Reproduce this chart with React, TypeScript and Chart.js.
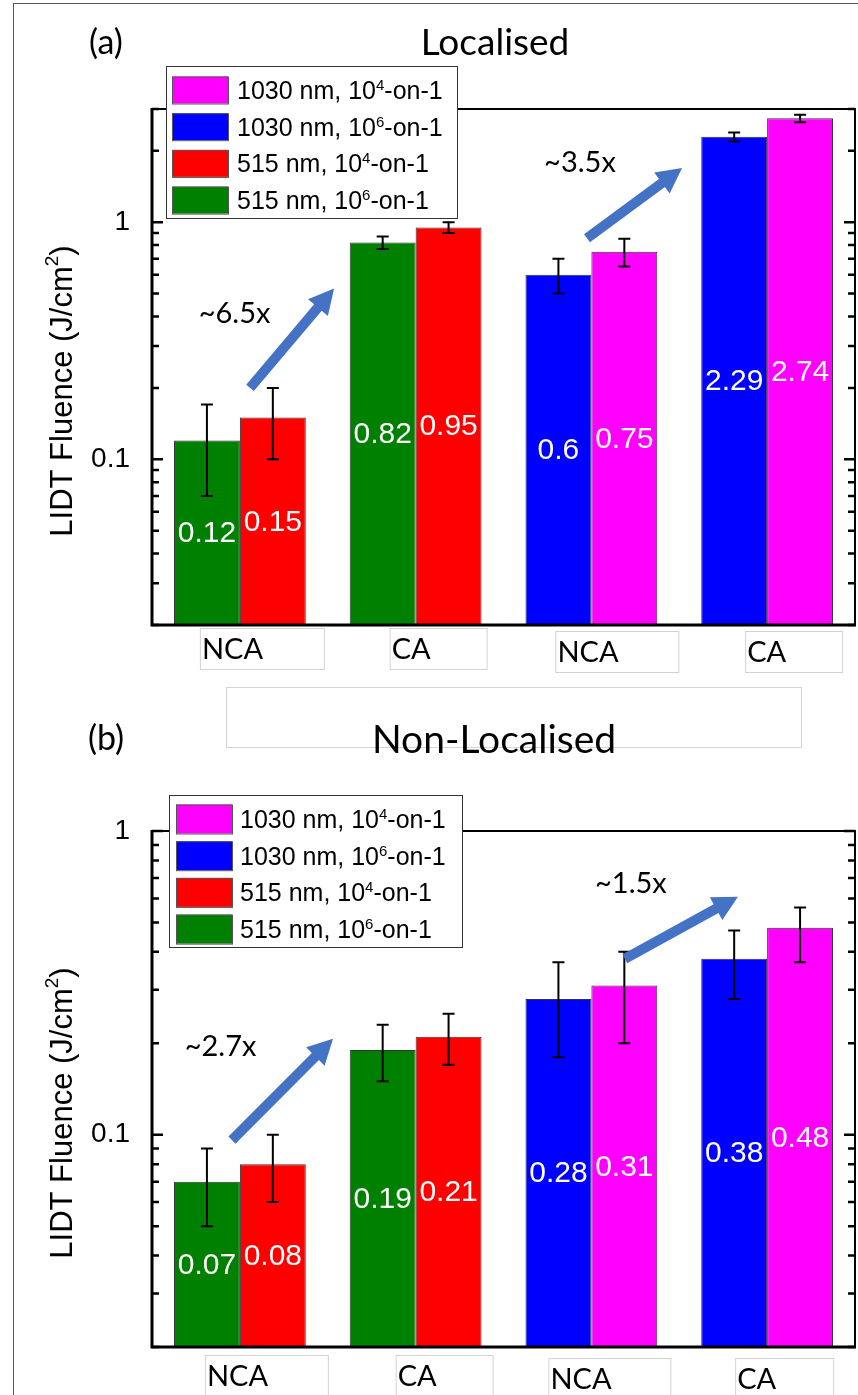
import React, { useEffect, useRef } from "react";
import { Chart, registerables } from "chart.js";

Chart.register(...registerables);

// ---------- data ----------
const CATEGORIES = ["NCA", "CA", "NCA", "CA"];
const SERIES_LABELS = ["515 nm, 10⁶-on-1", "515 nm, 10⁴-on-1", "1030 nm, 10⁶-on-1", "1030 nm, 10⁴-on-1"];
const SERIES_COLORS = ["#008000", "#FF0000", "#0000FF", "#FF00FF"];

// (a) Localised
const LOC_515_1E6 = [0.12, 0.82, null, null];
const LOC_515_1E4 = [0.15, 0.95, null, null];
const LOC_1030_1E6 = [null, null, 0.6, 2.29];
const LOC_1030_1E4 = [null, null, 0.75, 2.74];
const LOC_515_1E6_LO = [0.07, 0.77, null, null];
const LOC_515_1E6_HI = [0.17, 0.87, null, null];
const LOC_515_1E4_LO = [0.1, 0.9, null, null];
const LOC_515_1E4_HI = [0.2, 1.0, null, null];
const LOC_1030_1E6_LO = [null, null, 0.5, 2.19];
const LOC_1030_1E6_HI = [null, null, 0.7, 2.39];
const LOC_1030_1E4_LO = [null, null, 0.65, 2.64];
const LOC_1030_1E4_HI = [null, null, 0.85, 2.84];

// (b) Non-Localised
const NL_515_1E6 = [0.07, 0.19, null, null];
const NL_515_1E4 = [0.08, 0.21, null, null];
const NL_1030_1E6 = [null, null, 0.28, 0.38];
const NL_1030_1E4 = [null, null, 0.31, 0.48];
const NL_515_1E6_LO = [0.05, 0.15, null, null];
const NL_515_1E6_HI = [0.09, 0.23, null, null];
const NL_515_1E4_LO = [0.06, 0.17, null, null];
const NL_515_1E4_HI = [0.1, 0.25, null, null];
const NL_1030_1E6_LO = [null, null, 0.18, 0.28];
const NL_1030_1E6_HI = [null, null, 0.37, 0.47];
const NL_1030_1E4_LO = [null, null, 0.2, 0.37];
const NL_1030_1E4_HI = [null, null, 0.4, 0.56];

// y ticks
const Y_TICKS_LOC = [0.02, 0.03, 0.04, 0.05, 0.06, 0.07, 0.08, 0.09, 0.1, 0.2, 0.3, 0.4, 0.5, 0.6, 0.7, 0.8, 0.9, 1, 2, 3];
const Y_TICKS_NL = [0.02, 0.03, 0.04, 0.05, 0.06, 0.07, 0.08, 0.09, 0.1, 0.2, 0.3, 0.4, 0.5, 0.6, 0.7, 0.8, 0.9, 1];
const LABELED_TICKS = [0.1, 1];

// annotations (data coordinates: category index, value)
const LOC_ARROWS = [
  { from: [0.058, 0.2], to: [0.536, 0.525] },
  { from: [1.975, 0.855], to: [2.516, 1.69] },
];
const LOC_NOTES = [
  { text: "~6.5x", at: [-0.03, 0.41] },
  { text: "~3.5x", at: [1.935, 1.78] },
];
const NL_ARROWS = [
  { from: [-0.045, 0.096], to: [0.53, 0.207] },
  { from: [2.19, 0.379], to: [2.834, 0.608] },
];
const NL_NOTES = [
  { text: "~2.7x", at: [-0.11, 0.195] },
  { text: "~1.5x", at: [2.225, 0.671] },
];

const ARIAL = "'Liberation Sans', Arial, sans-serif";
const LATO = "Lato, 'Open Sans', sans-serif";
const W = 858;
const H = 1395;

const PANEL_A = {
  id: "a",
  series: [LOC_515_1E6, LOC_515_1E4, LOC_1030_1E6, LOC_1030_1E4],
  lo: [LOC_515_1E6_LO, LOC_515_1E4_LO, LOC_1030_1E6_LO, LOC_1030_1E4_LO],
  hi: [LOC_515_1E6_HI, LOC_515_1E4_HI, LOC_1030_1E6_HI, LOC_1030_1E4_HI],
  yMin: 0.02,
  yMax: 3,
  yTicks: Y_TICKS_LOC,
  top: 109,
  bottom: 625,
  title: "Localised",
  titleX: 495,
  titleBase: 55,
  titleSize: 37,
  tag: "(a)",
  tagX: 106,
  tagBase: 54,
  yTitleX: 72,
  yTitleY: 391,
  legend: { x: 166, y: 66, w: 291, h: 152, row0: 90, step: 36.7, sx: 172, sw: 56, sh: 27, tx: 237 },
  xl: { dx: [-40, -26, -36, -22], top: [628, 628, 631, 631], w: [124, 97, 123, 97], h: 41 },
  arrows: LOC_ARROWS,
  notes: LOC_NOTES,
};

const PANEL_B = {
  id: "b",
  series: [NL_515_1E6, NL_515_1E4, NL_1030_1E6, NL_1030_1E4],
  lo: [NL_515_1E6_LO, NL_515_1E4_LO, NL_1030_1E6_LO, NL_1030_1E4_LO],
  hi: [NL_515_1E6_HI, NL_515_1E4_HI, NL_1030_1E6_HI, NL_1030_1E4_HI],
  yMin: 0.02,
  yMax: 1,
  yTicks: Y_TICKS_NL,
  top: 831,
  bottom: 1347,
  title: "Non-Localised",
  titleX: 494,
  titleBase: 753,
  titleSize: 39,
  tag: "(b)",
  tagX: 106,
  tagBase: 750,
  yTitleX: 72,
  yTitleY: 1113,
  legend: { x: 169, y: 795, w: 293, h: 152, row0: 819, step: 36.7, sx: 176, sw: 56, sh: 29, tx: 240 },
  xl: { dx: [-35, -20, -43, -32], top: [1355, 1355, 1358, 1358], w: [123, 97, 122, 98], h: 50 },
  arrows: NL_ARROWS,
  notes: NL_NOTES,
};

// ---------- helpers ----------
const SUP_MAP: Record<string, string> = { "⁰": "0", "¹": "1", "²": "2", "³": "3", "⁴": "4", "⁵": "5", "⁶": "6", "⁷": "7", "⁸": "8", "⁹": "9" };

function splitSup(label: string) {
  const parts: { text: string; sup: boolean }[] = [];
  for (const ch of label) {
    const sup = ch in SUP_MAP;
    const c = sup ? SUP_MAP[ch] : ch;
    const last = parts[parts.length - 1];
    if (last && last.sup === sup) last.text += c;
    else parts.push({ text: c, sup });
  }
  return parts;
}

function drawRich(ctx: CanvasRenderingContext2D, parts: { text: string; sup: boolean }[], x: number, y: number, size: number, supSize: number, raise: number, center: boolean) {
  const widths = parts.map((p) => {
    ctx.font = `${p.sup ? supSize : size}px ${ARIAL}`;
    return ctx.measureText(p.text).width;
  });
  const total = widths.reduce((a, b) => a + b, 0);
  let cx = center ? x - total / 2 : x;
  ctx.textAlign = "left";
  ctx.textBaseline = "alphabetic";
  parts.forEach((p, i) => {
    ctx.font = `${p.sup ? supSize : size}px ${ARIAL}`;
    ctx.fillText(p.text, cx, p.sup ? y - raise : y);
    cx += widths[i];
  });
}

function drawArrow(ctx: CanvasRenderingContext2D, x1: number, y1: number, x2: number, y2: number) {
  const ang = Math.atan2(y2 - y1, x2 - x1);
  const len = Math.hypot(x2 - x1, y2 - y1);
  const sw = 5;
  const hw = 13;
  const hl = 25;
  ctx.save();
  ctx.translate(x1, y1);
  ctx.rotate(ang);
  ctx.beginPath();
  ctx.moveTo(0, -sw);
  ctx.lineTo(len - hl, -sw);
  ctx.lineTo(len - hl, -hw);
  ctx.lineTo(len, 0);
  ctx.lineTo(len - hl, hw);
  ctx.lineTo(len - hl, sw);
  ctx.lineTo(0, sw);
  ctx.closePath();
  ctx.fillStyle = "#4472C4";
  ctx.fill();
  ctx.restore();
}

function decorPlugin(panel: any) {
  return {
    id: "decor" + panel.id,
    afterDatasetsDraw(chart: any) {
      const ctx: CanvasRenderingContext2D = chart.ctx;
      const yS = chart.scales.y;
      ctx.save();
      chart.data.datasets.forEach((ds: any, di: number) => {
        const meta = chart.getDatasetMeta(di);
        ds.data.forEach((v: number | null, i: number) => {
          if (v == null) return;
          const bar = meta.data[i];
          if (!bar || !isFinite(bar.x)) return;
          // value label
          ctx.fillStyle = "#FFFFFF";
          ctx.font = `30px ${ARIAL}`;
          ctx.textAlign = "center";
          ctx.textBaseline = "middle";
          ctx.fillText(String(v), bar.x, (bar.y + bar.base) / 2 + 1);
          // error bar
          const lo = panel.lo[di][i];
          const hi = panel.hi[di][i];
          if (lo == null || hi == null) return;
          const yl = yS.getPixelForValue(lo);
          const yh = yS.getPixelForValue(hi);
          ctx.strokeStyle = "#000";
          ctx.lineWidth = 2;
          ctx.beginPath();
          ctx.moveTo(bar.x, yl);
          ctx.lineTo(bar.x, yh);
          ctx.moveTo(bar.x - 6, yl);
          ctx.lineTo(bar.x + 6, yl);
          ctx.moveTo(bar.x - 6, yh);
          ctx.lineTo(bar.x + 6, yh);
          ctx.stroke();
        });
      });
      ctx.restore();
    },
    afterDraw(chart: any) {
      const ctx: CanvasRenderingContext2D = chart.ctx;
      const { left, right, top, bottom } = chart.chartArea;
      const xS = chart.scales.x;
      const yS = chart.scales.y;
      ctx.save();

      // frame
      ctx.strokeStyle = "#000";
      ctx.lineWidth = 2;
      ctx.beginPath();
      ctx.moveTo(left, top);
      ctx.lineTo(right, top);
      ctx.lineTo(right, bottom);
      ctx.stroke();
      ctx.lineWidth = 3;
      ctx.beginPath();
      ctx.moveTo(left, top - 1);
      ctx.lineTo(left, bottom);
      ctx.lineTo(right + 1, bottom);
      ctx.stroke();

      // inward ticks
      ctx.lineWidth = 2.5;
      yS.ticks.forEach((t: any) => {
        const y = yS.getPixelForValue(t.value);
        const len = LABELED_TICKS.includes(t.value) ? 11 : 7;
        ctx.beginPath();
        ctx.moveTo(left, y);
        ctx.lineTo(left + len, y);
        ctx.moveTo(right, y);
        ctx.lineTo(right - len, y);
        ctx.stroke();
      });

      // x category labels in faint boxes
      CATEGORIES.forEach((c, i) => {
        const cx = xS.getPixelForValue(i);
        const bx = cx + panel.xl.dx[i];
        const by = panel.xl.top[i];
        ctx.strokeStyle = "#d2d2d2";
        ctx.lineWidth = 1;
        ctx.strokeRect(bx + 0.5, by + 0.5, panel.xl.w[i], panel.xl.h);
        ctx.fillStyle = "#000";
        ctx.font = `29px ${LATO}`;
        ctx.textAlign = "left";
        ctx.textBaseline = "middle";
        ctx.fillText(c, bx + 2, by + 22);
      });

      // arrows and notes
      panel.arrows.forEach((a: any) => {
        drawArrow(
          ctx,
          xS.getPixelForValue(a.from[0]),
          yS.getPixelForValue(a.from[1]),
          xS.getPixelForValue(a.to[0]),
          yS.getPixelForValue(a.to[1])
        );
      });
      panel.notes.forEach((n: any) => {
        ctx.fillStyle = "#000";
        ctx.font = `29px ${LATO}`;
        ctx.textAlign = "center";
        ctx.textBaseline = "middle";
        ctx.fillText(n.text, xS.getPixelForValue(n.at[0]), yS.getPixelForValue(n.at[1]));
      });

      // legend
      const L = panel.legend;
      ctx.fillStyle = "#fff";
      ctx.fillRect(L.x, L.y, L.w, L.h);
      ctx.strokeStyle = "#333";
      ctx.lineWidth = 1;
      ctx.strokeRect(L.x + 0.5, L.y + 0.5, L.w, L.h);
      const order = chart.data.datasets.map((_: any, i: number) => i).reverse();
      order.forEach((di: number, row: number) => {
        const ds = chart.data.datasets[di];
        const cy = L.row0 + row * L.step;
        ctx.fillStyle = ds.backgroundColor;
        ctx.fillRect(L.sx, cy - L.sh / 2, L.sw, L.sh);
        ctx.strokeStyle = "#555";
        ctx.strokeRect(L.sx + 0.5, cy - L.sh / 2 + 0.5, L.sw, L.sh);
        ctx.fillStyle = "#000";
        drawRich(ctx, splitSup(ds.label), L.tx, cy + 9, 25, 15, 9, false);
      });

      // panel title and tag
      ctx.fillStyle = "#000";
      ctx.textAlign = "center";
      ctx.textBaseline = "alphabetic";
      ctx.font = `${panel.titleSize}px ${LATO}`;
      ctx.fillText(panel.title, panel.titleX, panel.titleBase);
      ctx.font = `34px ${LATO}`;
      ctx.fillText(panel.tag, panel.tagX, panel.tagBase);

      // y axis title
      ctx.save();
      ctx.translate(panel.yTitleX, panel.yTitleY);
      ctx.rotate(-Math.PI / 2);
      ctx.fillStyle = "#000";
      drawRich(ctx, splitSup("LIDT Fluence (J/cm²)"), 0, 0, 31, 19, 14, true);
      ctx.restore();

      ctx.restore();
    },
  };
}

function makeConfig(panel: any): any {
  return {
    type: "bar",
    data: {
      labels: CATEGORIES,
      datasets: panel.series.map((vals: (number | null)[], i: number) => ({
        label: SERIES_LABELS[i],
        data: vals,
        backgroundColor: SERIES_COLORS[i],
        borderColor: "#333",
        borderWidth: 1,
        barPercentage: 1,
        categoryPercentage: 0.75,
        skipNull: true,
      })),
    },
    options: {
      responsive: false,
      maintainAspectRatio: false,
      animation: false,
      devicePixelRatio: 1,
      layout: { padding: { left: 0, right: W - 855, top: panel.top, bottom: H - panel.bottom } },
      plugins: { legend: { display: false }, tooltip: { enabled: false } },
      scales: {
        x: { type: "category", display: false, grid: { display: false } },
        y: {
          type: "logarithmic",
          min: panel.yMin,
          max: panel.yMax,
          afterFit: (s: any) => {
            s.width = 152;
          },
          afterBuildTicks: (s: any) => {
            s.ticks = panel.yTicks.map((v: number) => ({ value: v }));
          },
          grid: { display: false },
          border: { display: false },
          ticks: {
            autoSkip: false,
            padding: 14,
            color: "#000",
            font: { family: ARIAL, size: 28 },
            callback: (v: number) => (LABELED_TICKS.includes(v) ? String(v) : ""),
          },
        },
      },
    },
    plugins: [decorPlugin(panel)],
  };
}

function Panel({ panel }: { panel: any }) {
  const ref = useRef<HTMLCanvasElement>(null);
  useEffect(() => {
    const chart = new Chart(ref.current as HTMLCanvasElement, makeConfig(panel));
    return () => chart.destroy();
  }, [panel]);
  return (
    <canvas
      ref={ref}
      width={W}
      height={H}
      style={{ position: "absolute", left: 0, top: 0, width: W, height: H }}
    />
  );
}

export default function App() {
  return (
    <div style={{ position: "absolute", left: 0, top: 0, width: W, height: H, background: "#fff", overflow: "hidden" }}>
      <div
        style={{
          position: "absolute",
          left: 13,
          top: 3,
          width: W,
          height: H,
          borderLeft: "1.5px solid #555",
          borderTop: "1.5px solid #555",
        }}
      />
      <div
        style={{
          position: "absolute",
          left: 226,
          top: 687,
          width: 574,
          height: 59,
          border: "1px solid #d4d4d4",
        }}
      />
      <Panel panel={PANEL_A} />
      <Panel panel={PANEL_B} />
    </div>
  );
}
